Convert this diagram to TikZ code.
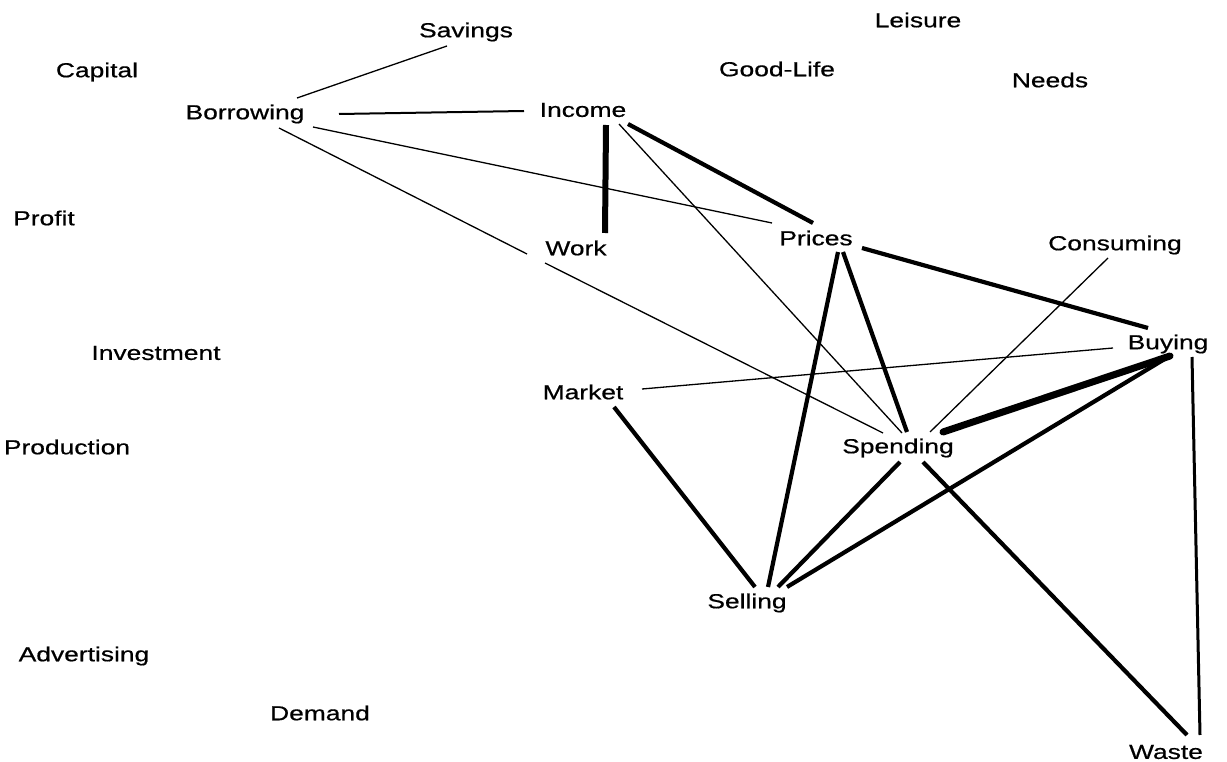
\documentclass[tikz,border=0pt]{standalone}
\usepackage{fontspec}
\setmainfont{Liberation Sans}[FakeStretch=1.3,FakeBold=0.6]
\begin{document}
\begin{tikzpicture}[x=1pt,y=-1pt,
  word/.style={inner sep=0pt,font=\fontsize{20.3}{24}\selectfont},
  e1/.style={line width=1.3pt},
  e2/.style={line width=2pt},
  e3/.style={line width=3pt},
  e4/.style={line width=4.2pt},
  e6/.style={line width=6pt},
  e7/.style={line width=7pt,line cap=round}]
\useasboundingbox (0,0) rectangle (1227,762);
% nodes
\node[word] (savings) at (466,32) {Savings};
\node[word] (leisure) at (918,20) {Leisure};
\node[word] (capital) at (97,72) {Capital};
\node[word] (goodlife) at (777,69) {Good-Life};
\node[word] (needs) at (1050,80) {Needs};
\node[word] (borrowing) at (245,114) {Borrowing};
\node[word] (income) at (583,110) {Income};
\node[word] (profit) at (44,218) {Profit};
\node[word] (work) at (576,248) {Work};
\node[word] (prices) at (816,238) {Prices};
\node[word] (consuming) at (1115,245) {Consuming};
\node[word] (investment) at (156,353) {Investment};
\node[word] (buying) at (1168,344) {Buying};
\node[word] (market) at (583,392) {Market};
\node[word] (production) at (67,447) {Production};
\node[word] (spending) at (898,448) {Spending};
\node[word] (selling) at (747,603) {Selling};
\node[word] (advertising) at (84,656) {Advertising};
\node[word] (demand) at (320,713) {Demand};
\node[word] (waste) at (1166,752) {Waste};
% connectors
\draw[e1] ([shift={(52,-16)}]borrowing.center) -- ([shift={(-19,14)}]savings.center);
\draw[e2] ([shift={(94,0)}]borrowing.center) -- ([shift={(-59,1)}]income.center);
\draw[e1] ([shift={(68,13)}]borrowing.center) -- ([shift={(-44,-15)}]prices.center);
\draw[e1] ([shift={(34,14)}]borrowing.center) -- ([shift={(-49,6)}]work.center);
\draw[e1] ([shift={(-31,15)}]work.center) -- ([shift={(-15,-15)}]spending.center);
\draw[e6] ([shift={(23,15)}]income.center) -- ([shift={(29,-15)}]work.center);
\draw[e4] ([shift={(45,14)}]income.center) -- ([shift={(-3,-15)}]prices.center);
\draw[e1] ([shift={(36,14)}]income.center) -- ([shift={(4,-15)}]spending.center);
\draw[e4] ([shift={(46,10)}]prices.center) -- ([shift={(-20,-16)}]buying.center);
\draw[e4] ([shift={(22,14)}]prices.center) -- ([shift={(21,-16)}]selling.center);
\draw[e4] ([shift={(27,14)}]prices.center) -- ([shift={(9,-16)}]spending.center);
\draw[e1] ([shift={(-7,13)}]consuming.center) -- ([shift={(32,-16)}]spending.center);
\draw[e1] ([shift={(59,-3)}]market.center) -- ([shift={(-55,4)}]buying.center);
\draw[e7] ([shift={(2,12)}]buying.center) -- ([shift={(45,-16)}]spending.center);
\draw[e4] ([shift={(0,13)}]buying.center) -- ([shift={(40,-16)}]selling.center);
\draw[e3] ([shift={(24,13)}]buying.center) -- ([shift={(34,-17)}]waste.center);
\draw[e4] ([shift={(25,14)}]spending.center) -- ([shift={(21,-17)}]waste.center);
\draw[e4] ([shift={(2,14)}]spending.center) -- ([shift={(31,-16)}]selling.center);
\draw[e4] ([shift={(31,15)}]market.center) -- ([shift={(8,-16)}]selling.center);
\end{tikzpicture}
\end{document}
